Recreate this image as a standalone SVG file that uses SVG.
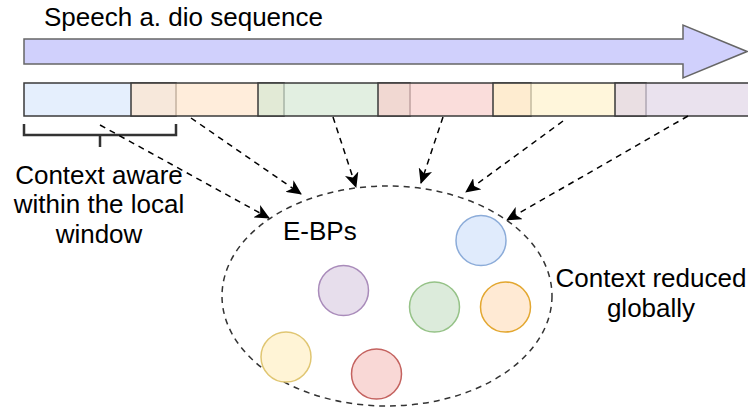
<svg xmlns="http://www.w3.org/2000/svg" width="748" height="408" viewBox="0 0 748 408">
  <defs>
    <style>
      .lbl { font-family: "Liberation Sans", Arial, Helvetica, sans-serif; font-size: 26px; fill: #000; }
      .win { stroke: #3a3a3a; stroke-width: 1.5; fill-opacity: 0.7; }
      .link { fill: none; stroke: #000; stroke-width: 1.5; stroke-dasharray: 6 5; marker-end: url(#head); }
      .bp { stroke-width: 1.5; }
    </style>
    <marker id="head" markerUnits="userSpaceOnUse" markerWidth="16" markerHeight="14" viewBox="0 0 16 14" refX="14" refY="7" orient="auto">
      <path d="M0,0 L15,7 L0,14 L4,7 Z" fill="#000"/>
    </marker>
  </defs>

  <!-- sequence direction arrow -->
  <g id="sequence-arrow">
    <path d="M24,39 L683,39 L683,25 L747,51.5 L683,78 L683,64 L24,64 Z" fill="#d0d0fc" stroke="#666" stroke-width="1.5"/>
    <text class="lbl" x="44" y="26">Speech a. dio sequence</text>
  </g>

  <!-- overlapping local windows along the sequence -->
  <g id="windows">
    <rect id="win-1" class="win" x="24" y="83" width="152" height="33" fill="#dae8fc"/>
    <rect id="win-2" class="win" x="131" y="83" width="153" height="33" fill="#ffe6cc"/>
    <rect id="win-3" class="win" x="258" y="83" width="152" height="33" fill="#d5e8d4"/>
    <rect id="win-4" class="win" x="378" y="83" width="153" height="33" fill="#f8cecc"/>
    <rect id="win-5" class="win" x="493" y="83" width="153" height="33" fill="#fff2cc"/>
    <rect id="win-6" class="win" x="615" y="83" width="140" height="33" fill="#e1d5e7"/>
  </g>

  <!-- local window bracket -->
  <g id="local-window">
    <path d="M24,124 L24,135 L176,135 L176,124 M100,135 L100,147" fill="none" stroke="#333" stroke-width="2.5"/>
    <text class="lbl" text-anchor="middle" x="99" y="184">Context aware</text>
    <text class="lbl" text-anchor="middle" x="99" y="213">within the local</text>
    <text class="lbl" text-anchor="middle" x="99" y="243">window</text>
  </g>

  <!-- global pool of E-BPs -->
  <g id="ebp-pool">
    <ellipse cx="387" cy="296" rx="165" ry="110" fill="none" stroke="#333" stroke-width="1.5" stroke-dasharray="6 5"/>
    <text class="lbl" x="283" y="240">E-BPs</text>
    <circle class="bp" cx="481" cy="240.5" r="25" fill="#e0ebfc" stroke="#8cacd9"/>
    <circle class="bp" cx="343.5" cy="290.5" r="25" fill="#e7deec" stroke="#a98bba"/>
    <circle class="bp" cx="434.5" cy="307" r="25" fill="#dcebdb" stroke="#95c287"/>
    <circle class="bp" cx="505.5" cy="307" r="25" fill="#ffead4" stroke="#e3a730"/>
    <circle class="bp" cx="286" cy="357" r="25" fill="#fff4d6" stroke="#e0c672"/>
    <circle class="bp" cx="376.5" cy="374" r="25" fill="#f9d8d6" stroke="#c4625f"/>
  </g>

  <g id="global-label">
    <text class="lbl" text-anchor="middle" x="651" y="287">Context reduced</text>
    <text class="lbl" text-anchor="middle" x="651" y="317">globally</text>
  </g>

  <!-- windows feeding into the pool -->
  <g id="connectors">
    <path class="link" d="M100,125 L269,218"/>
    <path class="link" d="M191,118 L301,194"/>
    <path class="link" d="M333,117 L356,187"/>
    <path class="link" d="M443,117 L421,183"/>
    <path class="link" d="M563,121 L466,192"/>
    <path class="link" d="M688,116 L507,220"/>
  </g>
</svg>
